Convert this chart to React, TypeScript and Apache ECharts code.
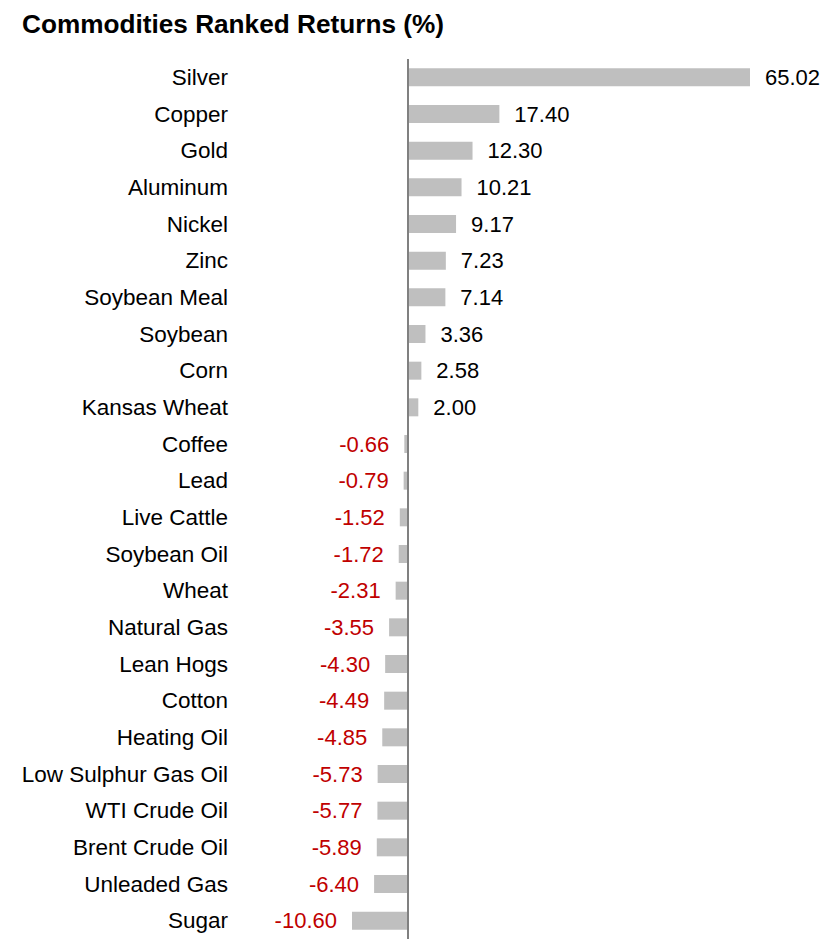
import React, { useEffect, useRef } from "react";
import * as echarts from "echarts";

const categories = [
  "Silver", "Copper", "Gold", "Aluminum", "Nickel", "Zinc", "Soybean Meal", "Soybean",
  "Corn", "Kansas Wheat", "Coffee", "Lead", "Live Cattle", "Soybean Oil", "Wheat",
  "Natural Gas", "Lean Hogs", "Cotton", "Heating Oil", "Low Sulphur Gas Oil",
  "WTI Crude Oil", "Brent Crude Oil", "Unleaded Gas", "Sugar",
];
const returns = [
  65.02, 17.4, 12.3, 10.21, 9.17, 7.23, 7.14, 3.36, 2.58, 2.0, -0.66, -0.79, -1.52,
  -1.72, -2.31, -3.55, -4.3, -4.49, -4.85, -5.73, -5.77, -5.89, -6.4, -10.6,
];

const FONT = "'Liberation Sans', Arial, sans-serif";

export default function App() {
  const ref = useRef<HTMLDivElement>(null);
  useEffect(() => {
    if (!ref.current) return;
    const chart = echarts.init(ref.current, undefined, { renderer: "svg" });
    chart.setOption({
      animation: false,
      title: {
        text: "Commodities Ranked Returns (%)",
        left: 14,
        top: 3,
        padding: 0,
        textStyle: { fontFamily: FONT, fontSize: 26.2, fontWeight: "bold", color: "#000" },
      },
      grid: { left: 344, right: 79, top: 51, height: 880 },
      xAxis: {
        type: "value",
        min: -10.6,
        max: 65.02,
        show: false,
      },
      yAxis: {
        type: "category",
        data: categories,
        inverse: true,
        axisLine: { show: false },
        axisTick: { show: false },
        splitLine: { show: false },
        axisLabel: {
          margin: 124,
          fontFamily: FONT,
          fontSize: 22.5,
          color: "#000",
        },
      },
      series: [
        {
          type: "bar",
          barWidth: 18,
          data: returns.map((v) => ({
            value: v,
            itemStyle: { color: "#bfbfbf" },
            label: {
              show: true,
              position: v >= 0 ? "right" : "left",
              distance: 15,
              formatter: v.toFixed(2),
              color: v >= 0 ? "#000" : "#c00000",
              fontFamily: FONT,
              fontSize: 22,
            },
          })),
          markLine: {
            silent: true,
            symbol: "none",
            label: { show: false },
            lineStyle: { color: "#808080", width: 2, type: "solid" },
            data: [{ xAxis: 0 }],
          },
        },
      ],
    });
    return () => chart.dispose();
  }, []);
  return <div ref={ref} style={{ width: 821, height: 936 }} />;
}
